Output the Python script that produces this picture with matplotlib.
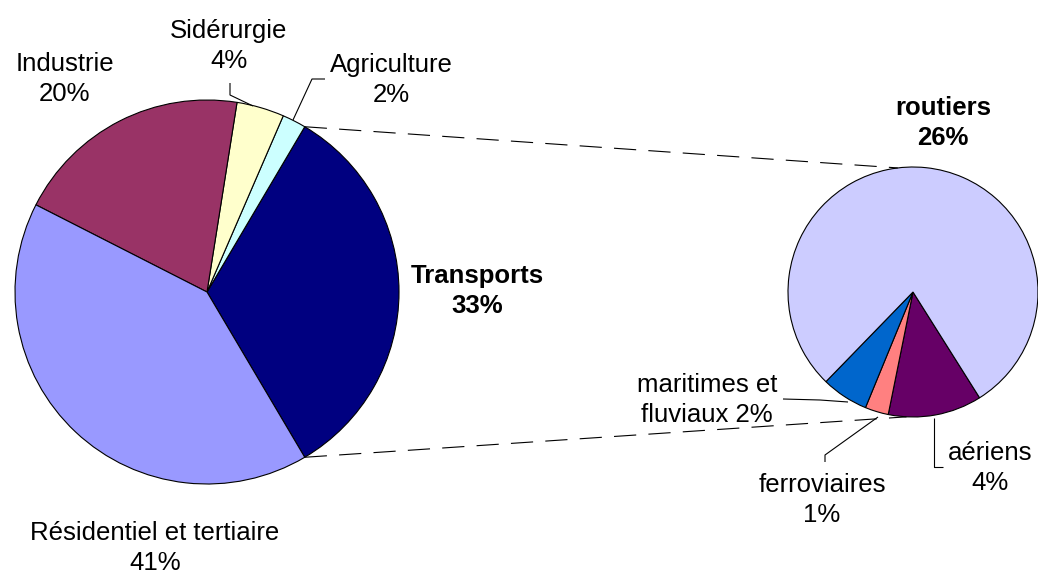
import numpy as np
import matplotlib
matplotlib.use("Agg")
import matplotlib.pyplot as plt

# ---- data ----
main_labels = ["Transports", "Agriculture", "Sidérurgie", "Industrie", "Résidentiel et tertiaire"]
main_values = [33, 2, 4, 20, 41]
main_colors = ["#000080", "#CCFFFF", "#FFFFCC", "#993366", "#9999FF"]

sub_labels = ["aériens", "ferroviaires", "maritimes et\nfluviaux", "routiers"]
sub_values = [4, 1, 2, 26]
sub_colors = ["#660066", "#FF8080", "#0066CC", "#CCCCFF"]

W, H = 1038, 577
fig = plt.figure(figsize=(W / 100, H / 100), dpi=100)
ax = fig.add_axes([0, 0, 1, 1])

def P(x, y):
    return (x, H - y)

FONT = "Liberation Sans"
FS = 18.5

# big pie
c1 = P(207, 292)
r1 = 192
tot1 = sum(main_values)
start1 = -main_values[0] / tot1 * 360 / 2
ax.pie(main_values, colors=main_colors, startangle=start1, counterclock=True,
       center=c1, radius=r1, wedgeprops=dict(edgecolor="black", linewidth=0.8),
       frame=False)

# sub pie
c2 = P(913, 292)
r2 = 125
tot2 = sum(sub_values)
start2 = -57.8
ax.pie(sub_values, colors=sub_colors, startangle=start2, counterclock=False,
       center=c2, radius=r2, wedgeprops=dict(edgecolor="black", linewidth=0.8),
       frame=False)

ax.set_xlim(0, W)
ax.set_ylim(0, H)
ax.set_aspect("equal")
ax.set_axis_off()

def edge(c, r, ang):
    a = np.deg2rad(ang)
    return (c[0] + r * np.cos(a), c[1] + r * np.sin(a))

# connector dashed lines
ang_top1 = main_values[0] / tot1 * 360 / 2
p1 = edge(c1, r1, ang_top1)
p2 = edge(c1, r1, -ang_top1)
q1 = edge(c2, r2, 97)
q2 = edge(c2, r2, -93)
dash = (0, (20, 11))
ax.plot([p1[0], q1[0]], [p1[1], q1[1]], color="black", lw=0.8, linestyle=dash)
ax.plot([p2[0], q2[0]], [p2[1], q2[1]], color="black", lw=0.8, linestyle=dash)

def leader(pts):
    xs = [p[0] for p in pts]
    ys = [p[1] for p in pts]
    ax.plot(xs, ys, color="black", lw=0.8, solid_capstyle="butt")

leader([P(253, 106), P(230, 95), P(230, 83)])
leader([P(293, 120), P(312, 79), P(325, 79)])
leader([P(848, 402), P(820, 400), P(783, 399)])
leader([P(878, 417), P(825, 455), P(825, 462)])
leader([P(934, 418), P(934, 467), P(943, 467)])

def label(x, y, s, bold=False):
    ax.text(*P(x, y), s, ha="center", va="center", fontsize=FS, family=FONT,
            fontweight="bold" if bold else "normal", linespacing=1.32)

label(65, 79, f"{main_labels[3]}\n{main_values[3]}%")
label(229, 46, f"{main_labels[2]}\n{main_values[2]}%")
label(391, 80, f"{main_labels[1]}\n{main_values[1]}%")
label(477, 291, f"{main_labels[0]}\n{main_values[0]}%", bold=True)
label(155, 548, f"{main_labels[4]}\n{main_values[4]}%")

label(943, 123, f"{sub_labels[3]}\n{sub_values[3]}%", bold=True)
label(990, 468, f"{sub_labels[0]}\n{sub_values[0]}%")
label(822, 500, f"{sub_labels[1]}\n{sub_values[1]}%")
label(707, 400, f"{sub_labels[2]} {sub_values[2]}%")

fig.savefig("out.png", dpi=100)
